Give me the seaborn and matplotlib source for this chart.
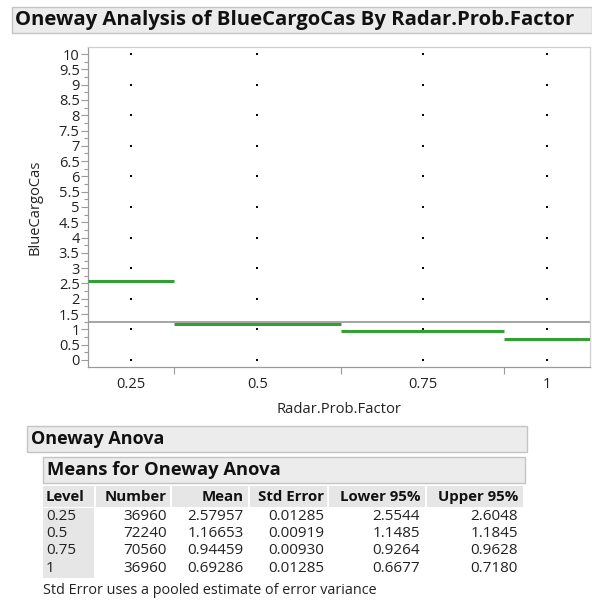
import pandas as pd
import numpy as np
import matplotlib
matplotlib.use('Agg')
import matplotlib.pyplot as plt
import seaborn as sns
from matplotlib.patches import Rectangle
from matplotlib.ticker import MultipleLocator, FuncFormatter, FixedLocator

# datos
niveles = ['0.25', '0.5', '0.75', '1']
numero = [36960, 72240, 70560, 36960]
media = [2.57957, 1.16653, 0.94459, 0.69286]
error_std = [0.01285, 0.00919, 0.00930, 0.01285]
inferior_95 = [2.5544, 1.1485, 0.9264, 0.6677]
superior_95 = [2.6048, 1.1845, 0.9628, 0.7180]
valores_y = [0, 1, 2, 3, 4, 5, 6, 7, 8, 9, 10]

W, H = 592, 602
FUENTE = 'Open Sans'

sns.set_style('white')
plt.rcParams['font.family'] = [FUENTE, 'DejaVu Sans']


def fx(x):
    return x / W


def fy(y):
    return 1 - y / H


fig = plt.figure(figsize=(W / 100, H / 100), dpi=100)
fig.patch.set_facecolor('white')

# barra de titulo
fig.patches.append(Rectangle((fx(12), fy(33)), fx(592) - fx(12), fy(7) - fy(33),
                             transform=fig.transFigure, facecolor='#ececec',
                             edgecolor='#c4c4c4', linewidth=1))
fig.text(fx(15), fy(20), 'Oneway Analysis of BlueCargoCas By Radar.Prob.Factor',
         fontsize=14.6, fontweight='bold', va='center', ha='left', color='#111111')

# ancho de cada grupo proporcional al numero de observaciones
bordes = np.concatenate([[0], np.cumsum(numero)])
centros = (bordes[:-1] + bordes[1:]) / 2
total = bordes[-1]
media_global = np.sum(np.array(numero) * np.array(media)) / total

df = pd.DataFrame({
    'Radar.Prob.Factor': np.repeat(centros, len(valores_y)),
    'BlueCargoCas': np.tile(valores_y, len(niveles)),
})

ax = fig.add_axes([fx(88), fy(367), fx(590) - fx(88), fy(47) - fy(367)])
sns.scatterplot(data=df, x='Radar.Prob.Factor', y='BlueCargoCas', marker='s', s=3.5,
                color='black', linewidth=0, ax=ax)

ax.axhline(media_global, color='#8c8c8c', linewidth=1.1, zorder=1)
ax.hlines(media, bordes[:-1], bordes[1:], color='#33a033', linewidth=2.2, zorder=3)

ax.set_xlim(0, total)
ax.set_ylim(-0.23, 10.23)

ax.yaxis.set_major_locator(MultipleLocator(0.5))
ax.yaxis.set_minor_locator(MultipleLocator(0.25))
ax.yaxis.set_major_formatter(FuncFormatter(lambda v, p: f'{v:g}'))
ax.xaxis.set_major_locator(FixedLocator(centros))
ax.set_xticklabels(niveles)
ax.xaxis.set_minor_locator(FixedLocator(bordes[1:-1]))

ax.tick_params(axis='y', which='major', left=True, length=5, width=0.8, color='#9a9a9a',
               labelsize=10.5, labelcolor='#222222', pad=1)
ax.tick_params(axis='y', which='minor', left=True, length=3, width=0.8, color='#9a9a9a')
ax.tick_params(axis='x', which='major', bottom=False, labelsize=10.5, labelcolor='#222222', pad=4)
ax.tick_params(axis='x', which='minor', bottom=True, length=5, width=0.8, color='#9a9a9a')

for lado in ['left', 'bottom']:
    ax.spines[lado].set_color('#9a9a9a')
    ax.spines[lado].set_linewidth(0.9)
for lado in ['top', 'right']:
    ax.spines[lado].set_color('#cfcfcf')
    ax.spines[lado].set_linewidth(0.9)

ax.set_xlabel('Radar.Prob.Factor', fontsize=10.6, color='#222222', labelpad=7)
ax.set_ylabel('BlueCargoCas', fontsize=10.6, color='#222222', labelpad=12)

# tabla de anova
def caja(x0, y0, x1, y1, color, borde=None):
    fig.patches.append(Rectangle((fx(x0), fy(y1)), fx(x1) - fx(x0), fy(y0) - fy(y1),
                                 transform=fig.transFigure, facecolor=color,
                                 edgecolor=borde if borde else 'none', linewidth=1))


caja(27, 426, 527, 452, '#ececec', '#c4c4c4')
fig.text(fx(31), fy(439), 'Oneway Anova', fontsize=13, fontweight='bold',
         va='center', color='#111111')
caja(43, 457, 525, 483, '#ececec', '#c4c4c4')
fig.text(fx(47), fy(470), 'Means for Oneway Anova', fontsize=13.2, fontweight='bold',
         va='center', color='#111111')

columnas = ['Level', 'Number', 'Mean', 'Std Error', 'Lower 95%', 'Upper 95%']
limites = [43, 96, 172, 250, 329, 427, 525]
derechas = [None, 167, 244, 324, 420, 518]
for i, nombre in enumerate(columnas):
    caja(limites[i], 486, limites[i + 1] - 2, 507, '#e6e6e6')
    if i == 0:
        fig.text(fx(46), fy(497), nombre, fontsize=10.8, fontweight='bold',
                 va='center', ha='left', color='#111111')
    else:
        fig.text(fx(derechas[i]), fy(497), nombre, fontsize=10.8, fontweight='bold',
                 va='center', ha='right', color='#111111')

caja(43, 508, 94, 578, '#e6e6e6')
filas_y = [516, 533.5, 551, 568.5]
for j in range(len(niveles)):
    yy = fy(filas_y[j])
    celdas = [niveles[j], f'{numero[j]}', f'{media[j]:.5f}', f'{error_std[j]:.5f}',
              f'{inferior_95[j]:.4f}', f'{superior_95[j]:.4f}']
    for i, txt in enumerate(celdas):
        if i == 0:
            fig.text(fx(46), yy, txt, fontsize=11, va='center', ha='left', color='#222222')
        else:
            fig.text(fx(derechas[i]), yy, txt, fontsize=11, va='center', ha='right',
                     color='#222222')

fig.text(fx(43), fy(591), 'Std Error uses a pooled estimate of error variance',
         fontsize=10.4, va='center', ha='left', color='#222222')

plt.savefig('out.png', dpi=100)
